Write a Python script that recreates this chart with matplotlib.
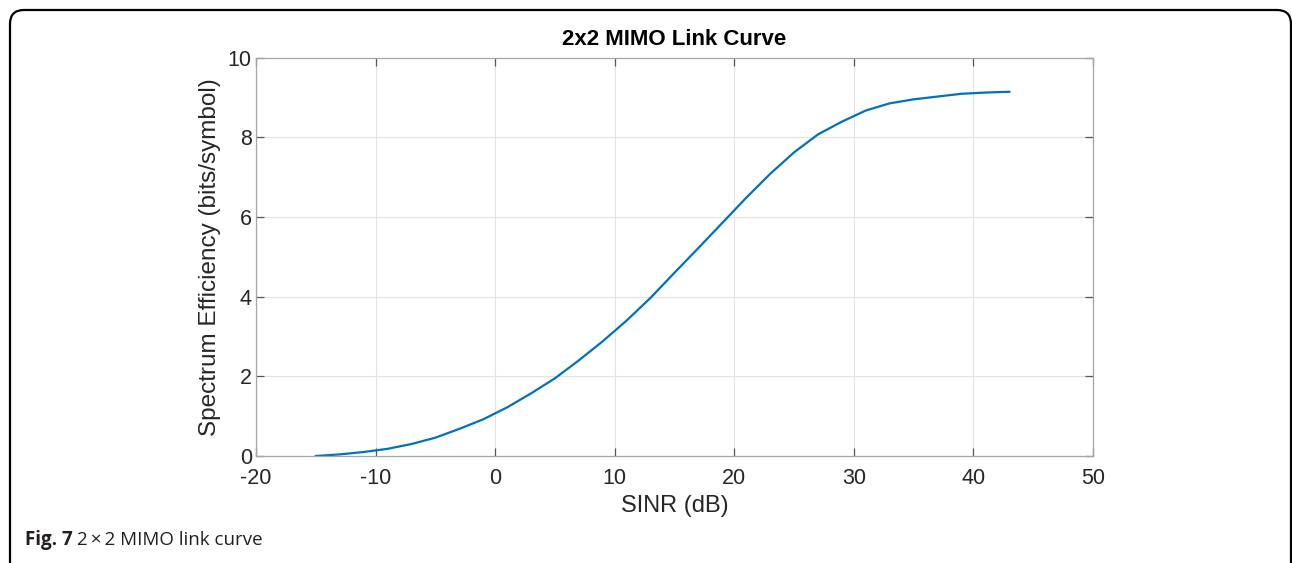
import matplotlib
matplotlib.use("Agg")
import matplotlib.pyplot as plt
from matplotlib.patches import FancyBboxPatch

sinr_db = [-15, -13, -11, -9, -7, -5, -3, -1, 1, 3, 5, 7, 9, 11, 13, 15, 17, 19,
           21, 23, 25, 27, 29, 31, 33, 35, 37, 39, 41, 43]
spectral_eff = [0.0, 0.04, 0.10, 0.18, 0.30, 0.46, 0.68, 0.92, 1.22, 1.57, 1.95,
                2.40, 2.88, 3.40, 3.97, 4.60, 5.22, 5.85, 6.48, 7.08, 7.62, 8.07,
                8.39, 8.67, 8.85, 8.95, 9.02, 9.09, 9.12, 9.14]
x_ticks = [-20, -10, 0, 10, 20, 30, 40, 50]
y_ticks = [0, 2, 4, 6, 8, 10]

plt.rcParams["axes.unicode_minus"] = False

W, H = 1292, 563
fig = plt.figure(figsize=(W / 100, H / 100), dpi=100)
fig.patch.set_facecolor("white")

# rounded frame (display/pixel coordinates)
frame = FancyBboxPatch((10, -40), 1281, H - 10 + 40,
                       boxstyle="round,pad=0,rounding_size=14",
                       transform=None, fill=False,
                       edgecolor="black", linewidth=1.6)
fig.patches.append(frame)

ax = fig.add_axes([256 / W, (H - 456) / H, 837 / W, 398.5 / H])
ax.plot(sinr_db, spectral_eff, color="#0072BD", linewidth=1.6)
ax.set_xlim(-20, 50)
ax.set_ylim(0, 10)
ax.set_xticks(x_ticks)
ax.set_yticks(y_ticks)
ax.grid(True, color="#e3e3e3", linewidth=0.8)
ax.set_axisbelow(True)
for s in ax.spines.values():
    s.set_color("#a6a6a6")
    s.set_linewidth(0.9)
ax.tick_params(direction="in", top=True, right=True, length=6, width=0.9,
               color="#555555", labelsize=15.5, labelcolor="#262626")
ax.tick_params(axis="x", pad=9)
ax.tick_params(axis="y", pad=3)
for lab in ax.get_xticklabels() + ax.get_yticklabels():
    lab.set_family("Liberation Sans")
ax.set_xlabel("SINR (dB)", fontsize=17, family="Liberation Sans",
              color="#262626", labelpad=4)
ax.set_ylabel("Spectrum Efficiency (bits/symbol)", fontsize=17.5,
              family="Liberation Sans", color="#262626", labelpad=5)
ax.set_title("2x2 MIMO Link Curve", fontsize=16, fontweight="bold",
             family="Liberation Sans", pad=9)

fig.text(25 / W, (H - 545) / H, "Fig. 7", fontsize=13.5, fontweight="bold",
         family="Open Sans", color="#231f20", va="baseline")
fig.text(77 / W, (H - 545) / H, "2\u2009\u00d7\u20092 MIMO link curve", fontsize=13.5,
         family="Open Sans", color="#231f20", va="baseline")

fig.savefig("out.png", dpi=100)
